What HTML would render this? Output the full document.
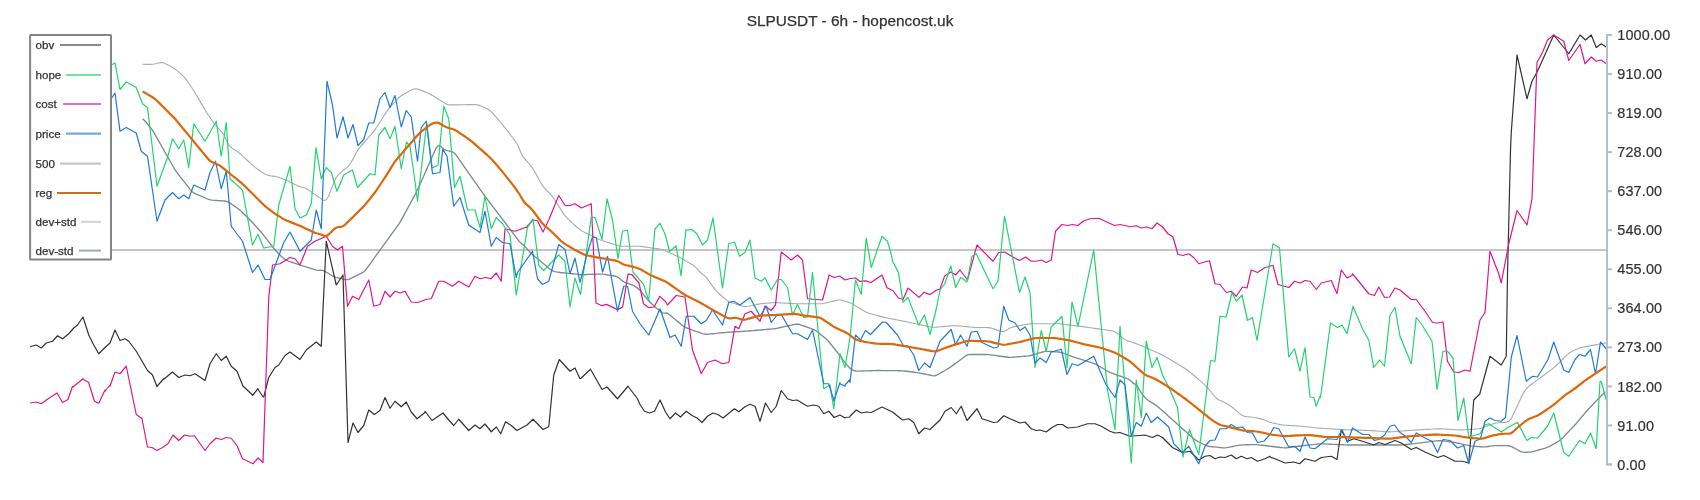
<!DOCTYPE html>
<html><head><meta charset="utf-8"><style>
html,body{margin:0;padding:0;background:#fff;}
svg{display:block;font-family:"Liberation Sans",sans-serif;will-change:transform;}
</style></head><body>
<svg width="1700" height="500" viewBox="0 0 1700 500">
<rect width="1700" height="500" fill="#fff"/>
<text x="850" y="26" font-size="15.4" fill="#333" stroke="#333" stroke-width="0.25" text-anchor="middle">SLPUSDT - 6h - hopencost.uk</text>
<line x1="30" y1="250" x2="1607" y2="250" stroke="#c6c6c6" stroke-width="2"/>
<path d="M142.50,64.27 L144.50,64.30 L146.50,64.35 L148.50,64.40 L150.50,64.41 L152.50,64.29 L154.50,63.96 L156.50,63.50 L158.50,63.01 L160.50,62.62 L162.50,62.61 L164.50,63.20 L166.50,64.17 L168.50,65.24 L170.50,66.32 L172.50,67.43 L174.50,68.67 L176.50,70.15 L178.50,71.82 L180.50,73.57 L182.50,75.38 L184.50,77.42 L186.50,79.92 L188.50,82.77 L190.50,85.75 L192.50,88.78 L194.50,91.89 L196.50,95.19 L198.50,98.63 L200.50,102.12 L202.50,105.60 L204.50,108.98 L206.50,112.18 L208.50,115.24 L210.50,118.25 L212.50,121.20 L214.50,123.96 L216.50,126.37 L218.50,128.48 L220.50,130.52 L222.50,132.77 L224.50,135.94 L226.50,140.38 L228.50,144.57 L230.50,147.09 L232.50,148.52 L234.50,149.72 L236.50,151.05 L238.50,152.56 L240.50,154.16 L242.50,155.83 L244.50,157.61 L246.50,159.52 L248.50,161.49 L250.50,163.43 L252.50,165.23 L254.50,166.85 L256.50,168.36 L258.50,169.81 L260.50,171.21 L262.50,172.58 L264.50,173.83 L266.50,174.78 L268.50,175.36 L270.50,175.75 L272.50,176.08 L274.50,176.42 L276.50,176.81 L278.50,177.33 L280.50,178.02 L282.50,178.80 L284.50,179.60 L286.50,180.43 L288.50,181.31 L290.50,182.26 L292.50,183.25 L294.50,184.25 L296.50,185.24 L298.50,186.14 L300.50,186.82 L302.50,187.27 L304.50,187.79 L306.50,188.71 L308.50,189.97 L310.50,191.35 L312.50,192.75 L314.50,194.15 L316.50,195.56 L318.50,196.97 L320.50,198.39 L322.50,199.75 L324.50,200.55 L326.50,199.58 L328.50,196.17 L330.50,191.31 L332.50,186.13 L334.50,181.22 L336.50,177.27 L338.50,174.64 L340.50,172.79 L342.50,171.14 L344.50,169.50 L346.50,167.83 L348.50,165.91 L350.50,163.32 L352.50,159.88 L354.50,156.03 L356.50,152.32 L358.50,149.18 L360.50,146.62 L362.50,144.29 L364.50,142.00 L366.50,139.71 L368.50,137.43 L370.50,135.14 L372.50,132.81 L374.50,130.31 L376.50,127.48 L378.50,124.39 L380.50,121.20 L382.50,118.00 L384.50,114.83 L386.50,111.79 L388.50,109.09 L390.50,106.73 L392.50,104.50 L394.50,102.30 L396.50,100.12 L398.50,98.05 L400.50,96.29 L402.50,94.93 L404.50,93.78 L406.50,92.67 L408.50,91.58 L410.50,90.48 L412.50,89.47 L414.50,88.81 L416.50,88.82 L418.50,89.37 L420.50,90.11 L422.50,90.88 L424.50,91.64 L426.50,92.42 L428.50,93.24 L430.50,94.22 L432.50,95.38 L434.50,96.64 L436.50,97.93 L438.50,99.21 L440.50,100.50 L442.50,101.78 L444.50,103.04 L446.50,104.11 L448.50,104.73 L450.50,104.92 L452.50,104.92 L454.50,104.88 L456.50,104.85 L458.50,104.82 L460.50,104.78 L462.50,104.75 L464.50,104.72 L466.50,104.68 L468.50,104.65 L470.50,104.62 L472.50,104.58 L474.50,104.57 L476.50,104.69 L478.50,105.11 L480.50,105.84 L482.50,106.70 L484.50,107.58 L486.50,108.48 L488.50,109.53 L490.50,111.00 L492.50,112.99 L494.50,115.26 L496.50,117.58 L498.50,119.92 L500.50,122.25 L502.50,124.60 L504.50,127.01 L506.50,129.54 L508.50,132.17 L510.50,134.83 L512.50,137.50 L514.50,140.18 L516.50,143.06 L518.50,146.84 L520.50,151.66 L522.50,155.83 L524.50,158.63 L526.50,160.90 L528.50,163.11 L530.50,165.42 L532.50,168.10 L534.50,171.37 L536.50,175.01 L538.50,178.74 L540.50,182.37 L542.50,185.57 L544.50,188.12 L546.50,190.24 L548.50,192.26 L550.50,194.34 L552.50,196.72 L554.50,199.54 L556.50,202.66 L558.50,205.85 L560.50,209.04 L562.50,212.18 L564.50,215.05 L566.50,217.44 L568.50,219.44 L570.50,221.29 L572.50,223.12 L574.50,224.96 L576.50,226.78 L578.50,228.51 L580.50,230.01 L582.50,231.21 L584.50,232.25 L586.50,233.25 L588.50,234.25 L590.50,235.25 L592.50,236.25 L594.50,237.25 L596.50,238.24 L598.50,239.20 L600.50,240.05 L602.50,240.76 L604.50,241.40 L606.50,242.03 L608.50,242.66 L610.50,243.28 L612.50,243.91 L614.50,244.53 L616.50,245.15 L618.50,245.70 L620.50,246.07 L622.50,246.22 L624.50,246.25 L626.50,246.25 L628.50,246.25 L630.50,246.25 L632.50,246.25 L634.50,246.25 L636.50,246.25 L638.50,246.29 L640.50,246.41 L642.50,246.63 L644.50,246.90 L646.50,247.19 L648.50,247.48 L650.50,247.77 L652.50,248.06 L654.50,248.34 L656.50,248.63 L658.50,248.93 L660.50,249.26 L662.50,249.74 L664.50,250.46 L666.50,251.33 L668.50,252.24 L670.50,253.16 L672.50,254.07 L674.50,254.99 L676.50,255.90 L678.50,256.85 L680.50,257.86 L682.50,258.97 L684.50,260.13 L686.50,261.29 L688.50,262.46 L690.50,263.63 L692.50,264.85 L694.50,266.30 L696.50,268.16 L698.50,270.34 L700.50,272.50 L702.50,274.25 L704.50,275.69 L706.50,277.63 L708.50,280.30 L710.50,283.25 L712.50,286.19 L714.50,288.90 L716.50,291.19 L718.50,293.13 L720.50,294.95 L722.50,296.75 L724.50,298.52 L726.50,300.13 L728.50,301.36 L730.50,302.21 L732.50,302.89 L734.50,303.55 L736.50,304.21 L738.50,304.86 L740.50,305.52 L742.50,306.12 L744.50,306.52 L746.50,306.53 L748.50,306.22 L750.50,305.81 L752.50,305.38 L754.50,304.94 L756.50,304.51 L758.50,304.11 L760.50,303.79 L762.50,303.56 L764.50,303.38 L766.50,303.21 L768.50,303.04 L770.50,302.88 L772.50,302.72 L774.50,302.63 L776.50,302.63 L778.50,302.72 L780.50,302.84 L782.50,302.97 L784.50,303.09 L786.50,303.22 L788.50,303.34 L790.50,303.47 L792.50,303.59 L794.50,303.68 L796.50,303.73 L798.50,303.75 L800.50,303.75 L802.50,303.75 L804.50,303.75 L806.50,303.75 L808.50,303.75 L810.50,303.75 L812.50,303.75 L814.50,303.75 L816.50,303.75 L818.50,303.75 L820.50,303.71 L822.50,303.56 L824.50,303.23 L826.50,302.78 L828.50,302.29 L830.50,301.81 L832.50,301.32 L834.50,300.84 L836.50,300.37 L838.50,300.02 L840.50,300.02 L842.50,300.43 L844.50,301.02 L846.50,301.61 L848.50,302.21 L850.50,303.00 L852.50,304.04 L854.50,305.20 L856.50,306.40 L858.50,307.60 L860.50,308.80 L862.50,310.00 L864.50,311.18 L866.50,312.27 L868.50,313.13 L870.50,313.75 L872.50,314.28 L874.50,314.80 L876.50,315.31 L878.50,315.83 L880.50,316.34 L882.50,316.85 L884.50,317.34 L886.50,317.78 L888.50,318.20 L890.50,318.60 L892.50,319.00 L894.50,319.40 L896.50,319.80 L898.50,320.20 L900.50,320.60 L902.50,321.00 L904.50,321.40 L906.50,321.80 L908.50,322.21 L910.50,322.62 L912.50,323.06 L914.50,323.50 L916.50,323.94 L918.50,324.39 L920.50,324.83 L922.50,325.28 L924.50,325.72 L926.50,326.17 L928.50,326.61 L930.50,327.01 L932.50,327.26 L934.50,327.27 L936.50,327.14 L938.50,326.97 L940.50,326.79 L942.50,326.61 L944.50,326.43 L946.50,326.26 L948.50,326.08 L950.50,325.90 L952.50,325.74 L954.50,325.65 L956.50,325.70 L958.50,325.86 L960.50,326.05 L962.50,326.25 L964.50,326.45 L966.50,326.65 L968.50,326.85 L970.50,327.05 L972.50,327.24 L974.50,327.39 L976.50,327.47 L978.50,327.50 L980.50,327.50 L982.50,327.50 L984.50,327.50 L986.50,327.51 L988.50,327.60 L990.50,327.89 L992.50,328.45 L994.50,329.14 L996.50,329.86 L998.50,330.59 L1000.50,331.27 L1002.50,331.67 L1004.50,331.34 L1006.50,330.23 L1008.50,328.86 L1010.50,327.76 L1012.50,327.09 L1014.50,326.66 L1016.50,326.28 L1018.50,325.91 L1020.50,325.53 L1022.50,325.16 L1024.50,324.78 L1026.50,324.41 L1028.50,324.08 L1030.50,323.86 L1032.50,323.77 L1034.50,323.75 L1036.50,323.75 L1038.50,323.75 L1040.50,323.75 L1042.50,323.75 L1044.50,323.75 L1046.50,323.75 L1048.50,323.75 L1050.50,323.75 L1052.50,323.75 L1054.50,323.75 L1056.50,323.75 L1058.50,323.78 L1060.50,323.88 L1062.50,324.08 L1064.50,324.31 L1066.50,324.56 L1068.50,324.81 L1070.50,325.06 L1072.50,325.31 L1074.50,325.56 L1076.50,325.81 L1078.50,326.07 L1080.50,326.33 L1082.50,326.61 L1084.50,326.89 L1086.50,327.18 L1088.50,327.46 L1090.50,327.75 L1092.50,328.04 L1094.50,328.32 L1096.50,328.61 L1098.50,328.89 L1100.50,329.18 L1102.50,329.46 L1104.50,329.75 L1106.50,330.04 L1108.50,330.32 L1110.50,330.61 L1112.50,330.97 L1114.50,331.60 L1116.50,332.76 L1118.50,334.34 L1120.50,336.06 L1122.50,337.76 L1124.50,339.25 L1126.50,340.36 L1128.50,341.15 L1130.50,341.83 L1132.50,342.50 L1134.50,343.17 L1136.50,343.84 L1138.50,344.53 L1140.50,345.29 L1142.50,346.12 L1144.50,347.00 L1146.50,347.89 L1148.50,348.78 L1150.50,349.67 L1152.50,350.56 L1154.50,351.44 L1156.50,352.33 L1158.50,353.22 L1160.50,354.14 L1162.50,355.12 L1164.50,356.22 L1166.50,357.40 L1168.50,358.60 L1170.50,359.80 L1172.50,361.00 L1174.50,362.20 L1176.50,363.40 L1178.50,364.60 L1180.50,365.80 L1182.50,367.00 L1184.50,368.21 L1186.50,369.50 L1188.50,370.95 L1190.50,372.58 L1192.50,374.29 L1194.50,376.00 L1196.50,377.71 L1198.50,379.43 L1200.50,381.14 L1202.50,382.87 L1204.50,384.67 L1206.50,386.63 L1208.50,388.85 L1210.50,391.26 L1212.50,393.75 L1214.50,396.19 L1216.50,398.30 L1218.50,399.68 L1220.50,400.53 L1222.50,401.44 L1224.50,402.50 L1226.50,403.61 L1228.50,404.75 L1230.50,405.99 L1232.50,407.47 L1234.50,409.15 L1236.50,410.92 L1238.50,412.68 L1240.50,414.35 L1242.50,415.64 L1244.50,416.33 L1246.50,416.64 L1248.50,416.85 L1250.50,417.05 L1252.50,417.27 L1254.50,417.54 L1256.50,417.91 L1258.50,418.38 L1260.50,418.88 L1262.50,419.40 L1264.50,420.02 L1266.50,420.81 L1268.50,421.68 L1270.50,422.43 L1272.50,422.97 L1274.50,423.40 L1276.50,423.80 L1278.50,424.20 L1280.50,424.58 L1282.50,424.89 L1284.50,425.10 L1286.50,425.25 L1288.50,425.38 L1290.50,425.50 L1292.50,425.63 L1294.50,425.75 L1296.50,425.88 L1298.50,426.00 L1300.50,426.13 L1302.50,426.30 L1304.50,426.51 L1306.50,426.76 L1308.50,427.01 L1310.50,427.27 L1312.50,427.52 L1314.50,427.76 L1316.50,427.97 L1318.50,428.13 L1320.50,428.27 L1322.50,428.39 L1324.50,428.52 L1326.50,428.65 L1328.50,428.77 L1330.50,428.90 L1332.50,429.03 L1334.50,429.15 L1336.50,429.28 L1338.50,429.40 L1340.50,429.50 L1342.50,429.58 L1344.50,429.65 L1346.50,429.72 L1348.50,429.78 L1350.50,429.85 L1352.50,429.92 L1354.50,429.98 L1356.50,430.05 L1358.50,430.12 L1360.50,430.18 L1362.50,430.25 L1364.50,430.32 L1366.50,430.38 L1368.50,430.46 L1370.50,430.56 L1372.50,430.69 L1374.50,430.84 L1376.50,430.99 L1378.50,431.14 L1380.50,431.29 L1382.50,431.44 L1384.50,431.59 L1386.50,431.73 L1388.50,431.85 L1390.50,431.87 L1392.50,431.78 L1394.50,431.64 L1396.50,431.48 L1398.50,431.32 L1400.50,431.16 L1402.50,431.00 L1404.50,430.84 L1406.50,430.68 L1408.50,430.52 L1410.50,430.36 L1412.50,430.20 L1414.50,430.06 L1416.50,429.93 L1418.50,429.83 L1420.50,429.73 L1422.50,429.62 L1424.50,429.53 L1426.50,429.43 L1428.50,429.33 L1430.50,429.23 L1432.50,429.13 L1434.50,429.03 L1436.50,428.93 L1438.50,428.85 L1440.50,428.85 L1442.50,428.92 L1444.50,429.03 L1446.50,429.16 L1448.50,429.28 L1450.50,429.41 L1452.50,429.53 L1454.50,429.66 L1456.50,429.78 L1458.50,429.87 L1460.50,429.90 L1462.50,429.83 L1464.50,429.72 L1466.50,429.59 L1468.50,429.47 L1470.50,429.34 L1472.50,429.22 L1474.50,429.09 L1476.50,428.96 L1478.50,428.76 L1480.50,428.37 L1482.50,427.76 L1484.50,427.02 L1486.50,426.26 L1488.50,425.49 L1490.50,424.73 L1492.50,423.99 L1494.50,423.37 L1496.50,422.98 L1498.50,422.78 L1500.50,422.63 L1502.50,422.50 L1504.50,422.36 L1506.50,422.16 L1508.50,421.53 L1510.50,419.67 L1512.50,416.28 L1514.50,412.08 L1516.50,407.71 L1518.50,403.35 L1520.50,399.12 L1522.50,395.06 L1524.50,391.38 L1526.50,388.54 L1528.50,386.63 L1530.50,385.07 L1532.50,383.58 L1534.50,382.10 L1536.50,380.63 L1538.50,379.17 L1540.50,377.70 L1542.50,376.23 L1544.50,374.77 L1546.50,373.30 L1548.50,371.83 L1550.50,370.36 L1552.50,368.83 L1554.50,367.15 L1556.50,365.27 L1558.50,363.30 L1560.50,361.30 L1562.50,359.30 L1564.50,357.30 L1566.50,355.34 L1568.50,353.57 L1570.50,352.17 L1572.50,351.10 L1574.50,350.16 L1576.50,349.24 L1578.50,348.41 L1580.50,347.75 L1582.50,347.28 L1584.50,346.90 L1586.50,346.53 L1588.50,346.16 L1590.50,345.80 L1592.50,345.43 L1594.50,345.06 L1596.50,344.68 L1598.50,344.30 L1600.50,343.90 L1602.50,343.51 L1604.50,343.16 L1606.50,342.92 L1606.50,342.92" stroke="#a7afb4" stroke-width="1.15" fill="none" stroke-linejoin="round"/>
<path d="M142.50,118.69 L144.50,120.46 L146.50,122.80 L148.50,125.20 L150.50,127.63 L152.50,130.33 L154.50,133.59 L156.50,137.11 L158.50,140.67 L160.50,144.22 L162.50,147.78 L164.50,151.33 L166.50,154.89 L168.50,158.44 L170.50,162.00 L172.50,165.54 L174.50,168.92 L176.50,171.87 L178.50,174.50 L180.50,177.07 L182.50,179.64 L184.50,182.21 L186.50,184.79 L188.50,187.36 L190.50,189.88 L192.50,192.01 L194.50,193.31 L196.50,194.21 L198.50,195.07 L200.50,195.93 L202.50,196.79 L204.50,197.64 L206.50,198.50 L208.50,199.31 L210.50,199.90 L212.50,200.17 L214.50,200.32 L216.50,200.46 L218.50,200.61 L220.50,200.75 L222.50,200.89 L224.50,201.04 L226.50,201.31 L228.50,202.08 L230.50,203.35 L232.50,204.75 L234.50,206.15 L236.50,207.55 L238.50,208.99 L240.50,210.62 L242.50,212.51 L244.50,214.50 L246.50,216.50 L248.50,218.50 L250.50,220.51 L252.50,222.57 L254.50,224.76 L256.50,227.00 L258.50,229.25 L260.50,231.51 L262.50,233.85 L264.50,236.36 L266.50,238.95 L268.50,241.55 L270.50,244.15 L272.50,246.74 L274.50,249.23 L276.50,251.46 L278.50,253.50 L280.50,255.50 L282.50,257.48 L284.50,259.24 L286.50,260.41 L288.50,261.16 L290.50,261.83 L292.50,262.50 L294.50,263.17 L296.50,263.83 L298.50,264.50 L300.50,265.15 L302.50,265.79 L304.50,266.41 L306.50,267.04 L308.50,267.67 L310.50,268.30 L312.50,268.93 L314.50,269.55 L316.50,270.10 L318.50,270.30 L320.50,270.23 L322.50,270.42 L324.50,271.14 L326.50,272.24 L328.50,273.49 L330.50,274.76 L332.50,275.99 L334.50,276.95 L336.50,277.54 L338.50,278.00 L340.50,278.44 L342.50,278.89 L344.50,279.33 L346.50,279.67 L348.50,279.50 L350.50,278.69 L352.50,277.67 L354.50,276.64 L356.50,275.60 L358.50,274.57 L360.50,273.56 L362.50,272.62 L364.50,271.28 L366.50,268.94 L368.50,266.17 L370.50,263.36 L372.50,260.55 L374.50,257.73 L376.50,254.92 L378.50,252.11 L380.50,249.32 L382.50,246.56 L384.50,243.81 L386.50,241.06 L388.50,238.31 L390.50,235.56 L392.50,232.81 L394.50,230.06 L396.50,227.31 L398.50,224.50 L400.50,221.38 L402.50,217.84 L404.50,214.14 L406.50,210.43 L408.50,206.71 L410.50,203.00 L412.50,199.29 L414.50,195.57 L416.50,191.77 L418.50,187.65 L420.50,183.21 L422.50,178.68 L424.50,174.16 L426.50,169.63 L428.50,165.10 L430.50,160.58 L432.50,156.05 L434.50,151.53 L436.50,147.42 L438.50,145.39 L440.50,146.28 L442.50,148.16 L444.50,149.68 L446.50,150.44 L448.50,150.88 L450.50,151.29 L452.50,151.85 L454.50,153.20 L456.50,155.63 L458.50,158.47 L460.50,161.34 L462.50,164.22 L464.50,167.09 L466.50,169.97 L468.50,172.84 L470.50,175.70 L472.50,178.54 L474.50,181.38 L476.50,184.21 L478.50,187.04 L480.50,189.88 L482.50,192.71 L484.50,195.50 L486.50,198.21 L488.50,200.84 L490.50,203.47 L492.50,206.09 L494.50,208.72 L496.50,211.34 L498.50,213.97 L500.50,216.59 L502.50,219.22 L504.50,221.85 L506.50,224.50 L508.50,227.17 L510.50,229.83 L512.50,232.50 L514.50,235.17 L516.50,237.83 L518.50,240.43 L520.50,242.65 L522.50,244.37 L524.50,246.07 L526.50,248.19 L528.50,250.57 L530.50,252.76 L532.50,254.57 L534.50,256.25 L536.50,257.92 L538.50,259.58 L540.50,261.25 L542.50,262.92 L544.50,264.58 L546.50,266.25 L548.50,267.92 L550.50,269.55 L552.50,270.87 L554.50,271.55 L556.50,271.92 L558.50,272.24 L560.50,272.52 L562.50,272.75 L564.50,272.95 L566.50,273.15 L568.50,273.35 L570.50,273.55 L572.50,273.75 L574.50,273.95 L576.50,274.15 L578.50,274.35 L580.50,274.55 L582.50,274.72 L584.50,274.72 L586.50,274.52 L588.50,274.40 L590.50,274.34 L592.50,274.28 L594.50,274.22 L596.50,274.16 L598.50,274.10 L600.50,274.07 L602.50,274.15 L604.50,274.41 L606.50,274.73 L608.50,275.05 L610.50,275.37 L612.50,275.69 L614.50,276.02 L616.50,276.49 L618.50,277.54 L620.50,279.18 L622.50,280.89 L624.50,282.22 L626.50,283.03 L628.50,283.65 L630.50,284.26 L632.50,285.00 L634.50,286.07 L636.50,287.39 L638.50,288.87 L640.50,290.85 L642.50,293.36 L644.50,295.97 L646.50,298.37 L648.50,300.49 L650.50,302.50 L652.50,304.49 L654.50,306.42 L656.50,308.17 L658.50,309.80 L660.50,311.40 L662.50,312.83 L664.50,313.14 L666.50,312.85 L668.50,313.92 L670.50,315.54 L672.50,317.19 L674.50,318.84 L676.50,320.49 L678.50,322.14 L680.50,323.79 L682.50,325.42 L684.50,326.90 L686.50,327.96 L688.50,328.72 L690.50,329.43 L692.50,330.12 L694.50,330.83 L696.50,331.52 L698.50,332.23 L700.50,332.92 L702.50,333.61 L704.50,334.15 L706.50,334.29 L708.50,334.15 L710.50,333.95 L712.50,333.75 L714.50,333.55 L716.50,333.35 L718.50,333.15 L720.50,332.95 L722.50,332.75 L724.50,332.56 L726.50,332.41 L728.50,332.28 L730.50,332.16 L732.50,332.03 L734.50,331.91 L736.50,331.78 L738.50,331.66 L740.50,331.53 L742.50,331.41 L744.50,331.27 L746.50,331.12 L748.50,330.96 L750.50,330.79 L752.50,330.62 L754.50,330.46 L756.50,330.29 L758.50,330.12 L760.50,329.96 L762.50,329.79 L764.50,329.62 L766.50,329.46 L768.50,329.29 L770.50,329.12 L772.50,328.95 L774.50,328.74 L776.50,328.40 L778.50,327.97 L780.50,327.53 L782.50,327.08 L784.50,326.64 L786.50,326.19 L788.50,325.75 L790.50,325.31 L792.50,324.86 L794.50,324.42 L796.50,324.09 L798.50,324.23 L800.50,324.83 L802.50,325.54 L804.50,326.25 L806.50,326.96 L808.50,327.68 L810.50,328.39 L812.50,329.12 L814.50,329.99 L816.50,331.26 L818.50,332.80 L820.50,334.40 L822.50,336.00 L824.50,337.60 L826.50,339.29 L828.50,341.34 L830.50,343.75 L832.50,346.25 L834.50,348.75 L836.50,351.27 L838.50,353.85 L840.50,356.50 L842.50,359.16 L844.50,361.80 L846.50,364.36 L848.50,366.78 L850.50,368.71 L852.50,369.96 L854.50,370.79 L856.50,371.13 L858.50,371.13 L860.50,371.07 L862.50,371.00 L864.50,370.93 L866.50,370.87 L868.50,370.80 L870.50,370.73 L872.50,370.67 L874.50,370.60 L876.50,370.54 L878.50,370.52 L880.50,370.53 L882.50,370.55 L884.50,370.57 L886.50,370.59 L888.50,370.61 L890.50,370.63 L892.50,370.65 L894.50,370.67 L896.50,370.69 L898.50,370.71 L900.50,370.74 L902.50,370.82 L904.50,371.01 L906.50,371.26 L908.50,371.52 L910.50,371.78 L912.50,372.04 L914.50,372.29 L916.50,372.55 L918.50,372.82 L920.50,373.14 L922.50,373.54 L924.50,373.97 L926.50,374.41 L928.50,374.84 L930.50,375.28 L932.50,375.68 L934.50,375.83 L936.50,375.27 L938.50,374.21 L940.50,373.04 L942.50,371.88 L944.50,370.71 L946.50,369.54 L948.50,368.35 L950.50,367.07 L952.50,365.64 L954.50,364.16 L956.50,362.67 L958.50,361.19 L960.50,359.70 L962.50,358.21 L964.50,356.73 L966.50,355.39 L968.50,354.65 L970.50,354.51 L972.50,354.50 L974.50,354.50 L976.50,354.50 L978.50,354.50 L980.50,354.50 L982.50,354.50 L984.50,354.50 L986.50,354.53 L988.50,354.66 L990.50,354.90 L992.50,355.17 L994.50,355.43 L996.50,355.70 L998.50,355.97 L1000.50,356.23 L1002.50,356.50 L1004.50,356.77 L1006.50,357.03 L1008.50,357.27 L1010.50,357.37 L1012.50,357.27 L1014.50,357.11 L1016.50,356.93 L1018.50,356.76 L1020.50,356.58 L1022.50,356.41 L1024.50,356.23 L1026.50,356.06 L1028.50,355.85 L1030.50,355.52 L1032.50,354.99 L1034.50,354.40 L1036.50,353.80 L1038.50,353.20 L1040.50,352.60 L1042.50,352.01 L1044.50,351.54 L1046.50,351.37 L1048.50,351.43 L1050.50,351.52 L1052.50,351.63 L1054.50,351.72 L1056.50,351.83 L1058.50,351.97 L1060.50,352.31 L1062.50,352.93 L1064.50,353.65 L1066.50,354.38 L1068.50,355.12 L1070.50,355.85 L1072.50,356.58 L1074.50,357.30 L1076.50,357.96 L1078.50,358.59 L1080.50,359.22 L1082.50,359.84 L1084.50,360.47 L1086.50,361.09 L1088.50,361.72 L1090.50,362.34 L1092.50,362.98 L1094.50,363.70 L1096.50,364.66 L1098.50,365.79 L1100.50,366.96 L1102.50,368.13 L1104.50,369.29 L1106.50,370.46 L1108.50,371.60 L1110.50,372.59 L1112.50,373.39 L1114.50,374.11 L1116.50,374.82 L1118.50,375.54 L1120.50,376.25 L1122.50,376.96 L1124.50,377.65 L1126.50,378.24 L1128.50,379.17 L1130.50,380.81 L1132.50,382.58 L1134.50,383.90 L1136.50,385.48 L1138.50,388.36 L1140.50,391.63 L1142.50,394.62 L1144.50,396.96 L1146.50,398.92 L1148.50,400.55 L1150.50,401.87 L1152.50,403.13 L1154.50,404.38 L1156.50,405.68 L1158.50,407.21 L1160.50,408.95 L1162.50,410.75 L1164.50,412.55 L1166.50,414.35 L1168.50,416.15 L1170.50,417.95 L1172.50,419.75 L1174.50,421.55 L1176.50,423.35 L1178.50,425.15 L1180.50,426.95 L1182.50,428.75 L1184.50,430.55 L1186.50,432.35 L1188.50,434.15 L1190.50,435.95 L1192.50,437.74 L1194.50,439.39 L1196.50,440.70 L1198.50,441.75 L1200.50,442.75 L1202.50,443.75 L1204.50,444.75 L1206.50,445.67 L1208.50,446.27 L1210.50,446.55 L1212.50,446.75 L1214.50,446.95 L1216.50,447.15 L1218.50,447.35 L1220.50,447.55 L1222.50,447.74 L1224.50,447.83 L1226.50,447.66 L1228.50,447.30 L1230.50,446.90 L1232.50,446.50 L1234.50,446.10 L1236.50,445.70 L1238.50,445.32 L1240.50,445.05 L1242.50,444.92 L1244.50,444.85 L1246.50,444.78 L1248.50,444.72 L1250.50,444.65 L1252.50,444.59 L1254.50,444.57 L1256.50,444.67 L1258.50,444.85 L1260.50,445.05 L1262.50,445.25 L1264.50,445.47 L1266.50,445.73 L1268.50,446.02 L1270.50,446.30 L1272.50,446.54 L1274.50,446.77 L1276.50,447.01 L1278.50,447.24 L1280.50,447.47 L1282.50,447.70 L1284.50,447.85 L1286.50,447.78 L1288.50,447.55 L1290.50,447.29 L1292.50,447.04 L1294.50,446.78 L1296.50,446.52 L1298.50,446.26 L1300.50,446.01 L1302.50,445.76 L1304.50,445.52 L1306.50,445.29 L1308.50,445.06 L1310.50,444.84 L1312.50,444.61 L1314.50,444.38 L1316.50,444.15 L1318.50,443.94 L1320.50,443.83 L1322.50,443.87 L1324.50,443.95 L1326.50,444.05 L1328.50,444.14 L1330.50,444.23 L1332.50,444.32 L1334.50,444.41 L1336.50,444.50 L1338.50,444.59 L1340.50,444.68 L1342.50,444.77 L1344.50,444.86 L1346.50,444.95 L1348.50,444.99 L1350.50,445.00 L1352.50,445.00 L1354.50,445.00 L1356.50,445.00 L1358.50,445.00 L1360.50,445.00 L1362.50,445.00 L1364.50,445.00 L1366.50,445.00 L1368.50,445.00 L1370.50,445.00 L1372.50,445.00 L1374.50,445.00 L1376.50,445.00 L1378.50,445.00 L1380.50,445.00 L1382.50,445.00 L1384.50,445.00 L1386.50,445.00 L1388.50,445.00 L1390.50,445.00 L1392.50,445.00 L1394.50,445.00 L1396.50,445.00 L1398.50,445.00 L1400.50,444.99 L1402.50,444.93 L1404.50,444.75 L1406.50,444.52 L1408.50,444.28 L1410.50,444.04 L1412.50,443.80 L1414.50,443.56 L1416.50,443.32 L1418.50,443.08 L1420.50,442.84 L1422.50,442.60 L1424.50,442.36 L1426.50,442.12 L1428.50,441.88 L1430.50,441.64 L1432.50,441.40 L1434.50,441.16 L1436.50,440.92 L1438.50,440.71 L1440.50,440.66 L1442.50,440.84 L1444.50,441.10 L1446.50,441.37 L1448.50,441.63 L1450.50,441.90 L1452.50,442.17 L1454.50,442.46 L1456.50,442.83 L1458.50,443.25 L1460.50,443.68 L1462.50,444.11 L1464.50,444.54 L1466.50,444.96 L1468.50,445.39 L1470.50,445.81 L1472.50,446.16 L1474.50,446.36 L1476.50,446.49 L1478.50,446.61 L1480.50,446.73 L1482.50,446.84 L1484.50,446.89 L1486.50,446.75 L1488.50,446.47 L1490.50,446.18 L1492.50,445.88 L1494.50,445.64 L1496.50,445.55 L1498.50,445.56 L1500.50,445.59 L1502.50,445.62 L1504.50,445.66 L1506.50,445.69 L1508.50,445.79 L1510.50,446.22 L1512.50,447.12 L1514.50,448.18 L1516.50,449.26 L1518.50,450.34 L1520.50,451.39 L1522.50,452.16 L1524.50,452.36 L1526.50,452.27 L1528.50,452.15 L1530.50,451.98 L1532.50,451.62 L1534.50,451.10 L1536.50,450.55 L1538.50,449.99 L1540.50,449.44 L1542.50,448.88 L1544.50,448.33 L1546.50,447.72 L1548.50,446.88 L1550.50,445.82 L1552.50,444.70 L1554.50,443.58 L1556.50,442.46 L1558.50,441.28 L1560.50,439.80 L1562.50,437.90 L1564.50,435.85 L1566.50,433.78 L1568.50,431.72 L1570.50,429.65 L1572.50,427.58 L1574.50,425.45 L1576.50,423.18 L1578.50,420.80 L1580.50,418.40 L1582.50,416.00 L1584.50,413.60 L1586.50,411.23 L1588.50,408.99 L1590.50,406.88 L1592.50,404.80 L1594.50,402.72 L1596.50,400.64 L1598.50,398.56 L1600.50,396.48 L1602.50,394.41 L1604.50,392.53 L1605.50,391.87" stroke="#7f8b93" stroke-width="1.35" fill="none" stroke-linejoin="round"/>
<path d="M30.00,346.75 L36.25,345.00 L41.25,348.00 L46.25,343.00 L52.50,341.25 L57.50,335.75 L62.50,338.75 L68.75,333.75 L73.75,328.00 L77.50,325.00 L83.00,317.00 L88.75,335.00 L93.75,345.00 L98.75,353.75 L105.00,347.50 L110.00,343.00 L115.00,330.00 L120.00,340.50 L125.00,338.75 L128.75,341.25 L136.25,351.25 L147.50,370.50 L152.50,375.00 L157.00,386.75 L157.00,386.25 L163.75,378.75 L163.75,379.25 L172.50,372.00 L178.75,377.50 L178.75,377.50 L185.00,375.00 L190.00,375.75 L190.00,375.75 L195.00,373.75 L205.00,380.50 L205.00,380.50 L210.00,363.75 L216.25,353.75 L221.25,360.50 L226.25,356.25 L231.25,366.25 L237.00,371.25 L242.50,385.00 L242.50,385.50 L252.50,395.00 L252.50,395.50 L258.00,388.75 L258.00,389.25 L263.00,396.75 L263.75,397.00 L268.75,377.50 L268.75,377.50 L275.00,367.50 L278.75,365.00 L285.00,355.50 L290.00,352.00 L300.00,359.50 L306.25,350.00 L316.25,342.00 L321.25,346.25 L326.25,241.25 L336.25,285.00 L343.00,275.00 L348.00,442.50 L353.00,423.00 L358.00,432.50 L363.75,425.50 L368.75,410.00 L374.25,414.50 L380.00,410.50 L385.00,397.50 L390.00,408.25 L395.00,401.25 L401.25,406.75 L406.25,402.00 L411.25,412.00 L417.00,418.75 L425.00,412.50 L425.00,411.25 L432.00,420.50 L443.00,413.00 L448.75,420.00 L453.75,425.50 L458.75,419.25 L468.75,430.50 L475.00,425.00 L480.00,428.75 L485.00,424.00 L491.25,431.75 L496.25,427.00 L500.75,433.75 L505.50,421.75 L511.25,425.50 L517.00,430.50 L527.00,425.00 L533.00,419.25 L543.00,429.50 L548.75,426.75 L553.75,375.00 L559.25,359.50 L570.00,371.25 L575.00,368.00 L580.00,378.75 L581.25,378.00 L590.50,369.25 L602.00,389.50 L607.00,387.00 L617.50,398.75 L628.00,386.25 L637.50,398.75 L640.00,404.50 L644.50,411.25 L649.50,413.00 L654.50,411.25 L660.00,400.00 L665.50,412.00 L670.00,418.75 L675.50,413.00 L680.50,417.00 L686.25,411.25 L692.00,415.50 L697.00,418.00 L702.00,422.50 L707.50,416.25 L713.00,413.00 L718.00,414.50 L723.00,418.00 L734.50,408.75 L738.75,411.75 L745.00,406.75 L750.00,404.25 L755.00,406.25 L760.00,421.25 L765.50,403.00 L771.25,412.50 L776.25,406.25 L781.25,390.50 L787.50,398.75 L792.50,400.50 L797.00,400.00 L807.50,406.25 L813.75,405.00 L818.75,406.25 L823.75,413.75 L828.75,411.25 L834.25,417.50 L840.00,415.00 L845.00,418.00 L845.00,417.50 L850.00,417.00 L850.00,416.25 L856.25,410.00 L861.25,413.00 L866.25,412.00 L871.25,412.50 L882.00,407.00 L892.50,412.00 L902.50,420.00 L908.75,418.75 L913.75,422.50 L918.75,433.75 L924.50,428.00 L930.00,429.50 L940.00,420.00 L945.00,411.25 L951.25,407.50 L956.25,413.75 L961.25,406.25 L967.00,420.50 L977.00,408.75 L982.00,418.75 L993.75,422.50 L997.50,422.00 L1003.75,415.75 L1010.00,418.75 L1020.00,423.00 L1025.00,422.00 L1031.25,428.75 L1036.25,430.50 L1040.00,430.00 L1046.25,432.00 L1051.25,428.00 L1057.50,424.50 L1062.50,424.50 L1067.50,428.00 L1077.50,427.00 L1087.50,423.75 L1095.00,423.75 L1101.25,426.25 L1110.00,431.25 L1115.00,433.00 L1120.00,432.50 L1130.00,436.25 L1145.00,435.00 L1152.50,437.50 L1157.50,435.00 L1162.50,437.50 L1172.50,447.50 L1182.50,452.50 L1190.00,451.25 L1198.75,460.00 L1205.00,456.25 L1210.00,455.50 L1215.00,458.75 L1220.00,457.00 L1225.00,457.50 L1231.25,455.00 L1236.25,458.75 L1241.25,456.25 L1247.00,458.75 L1251.25,457.50 L1257.50,461.25 L1265.00,458.75 L1265.00,458.75 L1270.00,456.25 L1270.00,457.00 L1275.00,458.75 L1285.00,463.00 L1293.75,462.00 L1299.50,463.75 L1305.00,458.75 L1315.00,461.25 L1321.25,457.50 L1331.25,456.25 L1337.00,459.50 L1341.25,430.00 L1347.50,441.25 L1353.75,438.75 L1362.50,441.25 L1373.75,445.00 L1378.75,442.50 L1385.00,444.50 L1395.00,440.50 L1401.25,443.00 L1411.25,449.50 L1416.25,447.50 L1425.00,452.00 L1437.50,457.50 L1443.75,455.50 L1455.00,461.25 L1462.50,461.25 L1468.75,463.00 L1473.75,400.00 L1480.00,393.75 L1480.00,393.00 L1490.00,356.25 L1501.25,365.00 L1506.25,356.25 L1507.50,275.00 L1510.50,150.00 L1511.25,132.50 L1517.00,55.00 L1527.00,98.75 L1532.00,81.25 L1537.50,71.25 L1553.75,35.00 L1568.75,53.75 L1580.00,35.00 L1585.50,40.00 L1591.25,35.00 L1596.25,47.50 L1601.25,43.75 L1606.25,47.00" stroke="#333333" stroke-width="1.2" fill="none" stroke-linejoin="round"/>
<path d="M30.00,403.00 L36.25,402.00 L41.25,403.75 L46.25,400.00 L57.00,393.00 L62.50,402.50 L68.00,399.50 L72.50,386.25 L73.00,387.00 L83.00,378.75 L83.00,379.25 L88.75,382.50 L88.75,383.00 L94.50,401.25 L98.75,403.25 L105.00,390.00 L105.00,391.25 L110.00,385.00 L110.00,386.25 L115.00,372.00 L120.00,373.75 L126.25,366.25 L136.25,414.50 L142.00,418.75 L147.50,447.00 L152.00,447.50 L157.00,450.50 L162.50,447.50 L168.00,443.75 L173.00,435.00 L178.75,440.50 L184.50,435.00 L190.00,436.25 L194.50,435.75 L205.00,450.50 L210.00,443.75 L216.25,438.00 L221.25,439.50 L226.25,437.50 L231.25,438.25 L237.00,445.75 L242.50,458.75 L253.00,463.75 L258.00,458.00 L263.00,462.50 L268.75,297.50 L272.50,265.00 L280.00,263.75 L290.00,257.50 L295.00,258.75 L300.00,265.00 L307.50,246.25 L315.00,241.25 L326.25,236.25 L332.50,246.25 L337.50,250.00 L342.50,246.25 L347.50,306.25 L352.50,296.25 L358.75,299.50 L368.75,280.00 L373.75,306.25 L380.00,304.50 L385.00,291.25 L390.00,297.00 L395.00,291.25 L400.00,293.00 L405.00,291.25 L411.25,302.00 L417.50,302.50 L425.00,300.00 L425.00,299.50 L431.25,298.75 L438.75,281.25 L443.75,281.25 L452.50,286.25 L458.75,281.25 L468.75,287.00 L475.00,276.25 L480.00,278.75 L486.00,277.50 L491.00,278.75 L496.25,273.00 L501.25,281.25 L505.00,228.75 L515.00,231.25 L520.00,229.50 L525.00,227.50 L526.25,227.50 L533.00,220.00 L537.50,220.75 L543.00,232.00 L548.75,220.00 L558.75,195.50 L565.00,205.50 L570.00,205.50 L575.00,203.75 L581.25,208.00 L591.25,203.75 L596.00,303.00 L602.00,305.70 L606.50,304.40 L617.50,309.60 L622.70,307.00 L628.00,274.20 L631.80,274.50 L639.00,283.00 L643.50,303.80 L648.70,307.70 L654.00,307.00 L659.80,296.40 L665.00,301.00 L667.50,305.00 L676.25,295.50 L685.00,297.00 L692.50,350.00 L701.25,373.75 L707.50,362.50 L715.00,360.00 L722.50,363.75 L728.75,362.50 L735.00,326.25 L738.75,328.75 L745.00,313.75 L751.25,311.25 L760.00,321.25 L765.00,306.00 L771.00,310.50 L775.50,305.00 L781.25,252.00 L791.25,260.00 L797.50,255.00 L802.50,260.00 L807.50,298.75 L822.50,300.00 L829.20,275.00 L834.00,277.50 L839.70,276.00 L845.00,280.00 L850.20,278.50 L855.50,278.00 L860.00,281.40 L865.50,280.90 L871.00,282.50 L882.00,275.00 L887.00,287.80 L893.00,290.75 L898.50,298.00 L903.00,299.50 L908.00,288.00 L919.00,297.40 L924.00,292.20 L930.00,294.60 L936.00,290.40 L940.00,289.00 L944.70,275.90 L950.80,272.00 L955.70,274.80 L960.00,270.00 L967.50,280.00 L977.00,245.00 L993.00,261.25 L998.75,252.50 L1004.50,252.00 L1013.75,257.50 L1019.50,260.50 L1025.50,257.00 L1031.25,261.25 L1036.25,261.25 L1041.25,260.00 L1046.25,262.50 L1051.25,260.00 L1055.50,231.25 L1062.00,224.50 L1067.50,225.50 L1072.50,224.50 L1078.00,225.50 L1083.00,221.25 L1090.00,218.75 L1098.75,218.25 L1106.25,221.75 L1114.50,225.50 L1120.00,224.50 L1130.00,226.75 L1136.25,225.75 L1141.25,228.00 L1146.25,227.00 L1152.00,228.75 L1157.00,223.00 L1162.50,227.00 L1168.00,233.75 L1173.00,237.00 L1178.00,254.50 L1183.00,255.50 L1188.75,253.75 L1193.75,257.50 L1198.75,263.75 L1204.50,262.00 L1209.50,260.75 L1215.00,283.75 L1220.00,284.50 L1226.25,292.50 L1231.25,291.25 L1236.25,296.25 L1242.50,287.00 L1247.00,288.00 L1251.25,270.00 L1257.50,272.50 L1265.00,267.50 L1267.50,267.00 L1272.00,265.50 L1273.00,265.50 L1278.00,284.50 L1288.75,287.50 L1294.50,281.25 L1300.00,283.00 L1305.00,280.50 L1310.00,281.25 L1316.25,289.50 L1321.25,283.00 L1331.25,280.50 L1337.00,293.75 L1341.25,270.00 L1341.25,270.00 L1347.00,278.00 L1352.00,275.50 L1352.50,273.75 L1368.75,293.75 L1374.50,295.50 L1378.75,287.00 L1384.50,297.50 L1389.50,297.00 L1395.00,288.00 L1400.00,290.00 L1411.25,299.50 L1416.25,299.50 L1425.00,311.25 L1432.50,322.50 L1437.50,323.00 L1443.00,322.00 L1447.50,361.25 L1453.75,372.00 L1458.75,372.50 L1465.00,370.00 L1470.00,371.25 L1480.00,320.00 L1485.00,312.50 L1490.00,251.25 L1498.75,273.75 L1501.25,283.00 L1508.75,243.75 L1511.25,233.75 L1517.00,210.50 L1527.00,225.00 L1532.00,198.75 L1537.00,62.50 L1542.50,52.50 L1547.50,40.00 L1553.75,35.00 L1563.75,41.25 L1568.75,60.50 L1580.00,44.50 L1585.00,63.75 L1591.25,57.00 L1596.25,61.25 L1601.25,60.00 L1606.25,63.75" stroke="#e0168a" stroke-width="1.2" fill="none" stroke-linejoin="round"/>
<path d="M111.25,65.00 L115.00,63.00 L120.00,89.50 L126.25,82.00 L136.25,87.50 L142.50,103.75 L147.50,107.50 L157.00,186.25 L167.50,157.50 L172.50,138.75 L178.75,148.75 L183.75,140.00 L188.75,167.50 L193.75,123.75 L205.00,141.25 L216.25,121.25 L221.25,156.25 L226.25,122.50 L230.00,178.75 L242.50,190.00 L252.50,245.00 L258.00,234.25 L263.75,248.00 L273.75,246.25 L278.75,205.00 L290.00,166.25 L295.00,208.75 L300.00,218.00 L306.25,215.00 L311.25,203.75 L316.00,147.50 L321.25,178.75 L326.25,167.50 L331.25,172.50 L337.00,191.25 L343.75,175.00 L352.50,170.00 L357.50,187.50 L370.00,173.75 L375.00,175.00 L378.75,135.00 L385.00,127.50 L390.00,138.75 L395.00,126.25 L401.25,168.75 L406.40,142.00 L410.00,146.40 L414.80,180.00 L417.50,201.25 L426.70,123.30 L432.30,168.00 L438.00,165.30 L443.75,106.25 L448.75,118.75 L454.50,187.50 L460.00,176.25 L467.50,210.00 L475.00,210.00 L480.00,227.50 L485.00,196.25 L491.25,228.75 L496.25,217.50 L502.50,223.75 L510.00,235.00 L516.25,295.00 L527.50,227.50 L533.00,218.75 L538.75,265.50 L543.75,270.50 L558.75,255.00 L565.00,261.25 L570.00,307.00 L575.00,278.00 L580.50,294.50 L591.25,217.00 L595.00,217.50 L602.00,239.50 L607.00,198.75 L612.50,220.00 L618.00,258.75 L622.50,231.25 L627.50,230.00 L633.00,272.00 L643.50,284.30 L648.70,301.00 L652.60,255.00 L655.00,228.75 L655.00,229.00 L660.00,223.25 L660.00,223.60 L665.00,234.00 L669.60,251.60 L676.00,246.00 L681.00,275.60 L686.00,229.60 L686.25,230.00 L691.00,229.60 L692.50,230.00 L697.00,234.00 L697.50,235.00 L702.50,245.00 L707.50,240.00 L713.00,218.00 L722.50,288.00 L728.75,243.75 L734.50,242.00 L739.50,256.25 L745.00,252.50 L750.00,240.00 L755.00,278.00 L761.25,281.25 L765.00,278.00 L771.25,290.00 L777.50,279.50 L781.25,279.50 L787.50,287.50 L792.50,315.00 L797.50,304.50 L803.75,317.50 L807.50,317.00 L812.50,272.50 L823.75,388.75 L830.00,385.00 L833.75,408.75 L840.00,353.75 L845.00,367.50 L845.00,367.50 L850.00,337.50 L855.50,280.00 L861.25,294.50 L866.25,238.00 L871.25,267.50 L882.00,236.25 L887.50,241.25 L891.40,255.00 L892.50,261.00 L898.50,272.60 L903.00,302.30 L908.00,297.40 L912.80,310.00 L918.75,325.00 L924.50,315.00 L930.00,334.50 L936.00,310.00 L940.00,290.00 L944.70,284.00 L950.80,266.00 L955.70,287.50 L960.00,278.70 L961.25,277.50 L967.00,282.00 L972.00,256.25 L976.25,253.75 L993.00,288.75 L998.00,281.25 L1004.50,216.25 L1019.50,292.50 L1025.00,277.00 L1030.00,292.50 L1035.00,367.50 L1041.25,330.50 L1046.25,351.25 L1051.25,327.00 L1062.00,316.25 L1067.00,367.50 L1072.00,302.00 L1078.00,326.25 L1093.75,250.00 L1107.50,390.00 L1115.00,429.50 L1120.00,326.25 L1131.25,463.00 L1136.25,380.00 L1136.25,380.00 L1141.25,417.50 L1146.25,341.25 L1152.00,367.50 L1157.00,357.50 L1162.50,375.00 L1170.00,390.00 L1177.50,407.50 L1183.00,457.00 L1189.50,429.50 L1198.75,454.50 L1210.50,360.50 L1215.00,361.25 L1220.00,316.25 L1226.25,317.00 L1232.00,292.50 L1236.25,301.25 L1242.00,295.00 L1247.50,320.50 L1252.50,317.50 L1257.00,340.50 L1273.00,243.75 L1279.50,248.00 L1288.75,357.00 L1294.50,348.75 L1300.00,371.25 L1305.00,347.50 L1310.00,397.00 L1313.75,397.50 L1316.25,406.25 L1320.50,395.00 L1320.50,397.50 L1330.50,323.00 L1337.50,327.50 L1342.00,325.00 L1347.00,333.75 L1353.00,306.25 L1362.50,328.75 L1368.75,340.00 L1373.75,367.50 L1379.50,360.00 L1384.50,366.25 L1390.00,315.00 L1395.00,307.50 L1400.00,336.25 L1411.25,363.75 L1416.25,317.50 L1421.25,323.75 L1432.00,341.25 L1437.00,389.50 L1437.00,389.50 L1443.00,351.25 L1447.50,351.25 L1453.00,358.00 L1458.00,420.50 L1463.75,398.00 L1468.75,437.00 L1480.00,433.75 L1485.00,425.00 L1488.75,423.75 L1501.25,432.00 L1508.75,427.00 L1517.50,422.50 L1527.00,440.50 L1531.25,437.50 L1537.50,438.00 L1547.50,426.25 L1553.75,413.00 L1563.75,452.50 L1568.75,456.25 L1579.50,440.50 L1585.00,443.75 L1590.50,433.00 L1596.25,448.75 L1600.00,381.25 L1601.25,381.25 L1606.25,400.00" stroke="#22d46e" stroke-width="1.2" fill="none" stroke-linejoin="round"/>
<path d="M111.25,98.75 L115.00,93.00 L120.00,131.25 L126.25,127.50 L136.25,133.00 L141.25,151.25 L147.50,156.25 L157.00,221.25 L165.00,200.00 L172.50,192.50 L178.75,198.75 L183.75,195.00 L188.75,198.75 L193.75,185.00 L205.00,190.00 L210.00,172.50 L215.50,161.25 L221.25,188.75 L226.25,171.25 L231.25,226.25 L242.50,241.25 L252.50,272.50 L258.00,265.00 L265.00,279.50 L270.00,279.50 L283.75,242.50 L290.00,232.00 L300.00,251.25 L311.25,240.00 L316.25,210.00 L321.25,228.75 L327.00,81.25 L332.50,105.00 L337.00,138.00 L343.00,116.75 L348.00,138.00 L353.00,124.50 L358.00,145.50 L363.75,139.50 L368.75,123.00 L373.75,123.00 L380.00,98.75 L385.00,92.50 L390.00,107.50 L395.00,95.50 L401.25,127.00 L406.25,110.50 L411.25,117.00 L417.50,161.25 L421.25,127.50 L426.25,121.25 L432.50,173.75 L440.00,172.50 L442.80,149.20 L447.00,156.20 L453.75,206.25 L460.00,197.50 L468.75,225.00 L480.00,232.50 L485.00,211.25 L491.25,246.25 L496.25,237.50 L502.50,242.50 L510.00,243.75 L516.25,277.50 L517.50,272.50 L532.50,251.25 L537.50,278.75 L542.50,284.50 L548.75,281.25 L558.75,244.50 L565.00,249.50 L570.00,273.75 L575.00,258.00 L580.00,282.50 L587.50,252.50 L592.50,237.00 L596.25,237.50 L602.50,272.00 L607.50,256.25 L617.50,311.25 L623.75,286.25 L627.50,286.25 L632.50,311.25 L640.00,323.75 L648.75,335.00 L660.00,308.75 L670.00,337.50 L675.00,335.00 L681.25,346.25 L686.25,316.25 L693.75,316.25 L701.25,323.75 L706.25,320.50 L712.50,310.00 L722.50,325.00 L728.75,302.50 L733.75,301.25 L740.00,305.00 L750.00,297.50 L760.00,316.25 L766.25,306.25 L771.25,322.50 L777.50,314.50 L781.25,314.50 L792.50,333.75 L797.50,333.75 L807.50,339.50 L812.50,330.00 L823.75,383.75 L828.75,383.75 L833.75,400.00 L833.75,401.25 L840.00,382.50 L840.00,383.75 L845.00,386.25 L845.00,385.00 L850.00,379.50 L850.00,382.50 L850.00,382.50 L855.50,335.00 L860.50,340.00 L865.50,330.50 L870.50,334.50 L882.50,322.00 L886.25,322.50 L897.50,335.00 L903.75,346.25 L907.50,345.50 L913.75,355.00 L918.75,370.50 L924.50,363.00 L930.00,367.50 L940.00,341.25 L951.25,329.50 L955.50,345.00 L960.50,335.00 L967.00,346.25 L971.25,332.00 L977.00,331.25 L982.00,342.50 L993.75,348.00 L998.00,347.00 L1003.75,306.25 L1008.75,320.00 L1015.00,323.00 L1020.00,330.50 L1025.00,327.00 L1030.00,335.00 L1035.00,363.00 L1040.00,358.00 L1046.25,362.50 L1051.25,352.00 L1061.25,349.25 L1067.00,374.50 L1072.00,363.75 L1078.00,365.50 L1093.75,356.25 L1105.00,382.50 L1106.25,385.00 L1115.00,397.50 L1120.00,380.00 L1125.00,385.00 L1131.25,436.25 L1136.25,422.50 L1141.25,426.25 L1146.25,413.00 L1151.25,422.50 L1157.50,417.00 L1168.75,427.00 L1173.75,443.75 L1182.50,452.50 L1188.75,446.25 L1198.75,463.75 L1205.00,446.25 L1210.00,440.50 L1215.00,440.00 L1220.00,428.75 L1226.25,428.75 L1231.25,424.50 L1236.25,427.50 L1242.50,427.00 L1247.50,432.50 L1252.50,433.00 L1257.50,442.50 L1263.75,441.25 L1265.00,440.00 L1270.00,434.50 L1273.75,427.50 L1278.75,428.75 L1288.75,447.00 L1294.50,446.25 L1300.00,451.25 L1305.00,437.00 L1310.00,448.00 L1315.00,448.75 L1321.25,443.75 L1327.50,438.75 L1337.00,439.50 L1342.00,429.50 L1347.50,442.50 L1352.50,428.00 L1362.50,434.50 L1368.75,434.50 L1374.50,440.50 L1378.75,439.50 L1384.50,435.00 L1390.00,426.25 L1394.50,425.00 L1400.00,432.50 L1405.50,436.25 L1411.25,442.50 L1416.25,433.00 L1426.25,438.75 L1432.00,441.25 L1437.50,452.50 L1443.00,439.50 L1450.00,440.50 L1457.50,448.00 L1463.75,445.50 L1468.75,463.75 L1475.00,441.25 L1480.50,438.75 L1485.00,421.25 L1490.00,418.00 L1495.00,420.50 L1501.25,421.25 L1505.50,417.50 L1511.25,357.50 L1517.00,335.50 L1526.25,381.25 L1532.50,376.25 L1537.50,377.00 L1548.00,359.50 L1553.75,342.00 L1563.75,370.00 L1568.75,372.50 L1575.00,359.50 L1579.50,354.50 L1585.00,356.25 L1590.50,349.50 L1595.50,373.75 L1600.50,342.00 L1606.25,348.75" stroke="#1f7ad8" stroke-width="1.2" fill="none" stroke-linejoin="round"/>
<path d="M142.50,91.59 L144.50,92.48 L146.50,93.65 L148.50,94.85 L150.50,96.05 L152.50,97.26 L154.50,98.61 L156.50,100.30 L158.50,102.25 L160.50,104.25 L162.50,106.25 L164.50,108.25 L166.50,110.25 L168.50,112.25 L170.50,114.25 L172.50,116.26 L174.50,118.33 L176.50,120.60 L178.50,123.00 L180.50,125.43 L182.50,127.86 L184.50,130.29 L186.50,132.71 L188.50,135.14 L190.50,137.57 L192.50,140.00 L194.50,142.43 L196.50,144.86 L198.50,147.29 L200.50,149.71 L202.50,152.14 L204.50,154.57 L206.50,157.00 L208.50,159.33 L210.50,161.16 L212.50,162.29 L214.50,163.16 L216.50,164.01 L218.50,164.91 L220.50,166.07 L222.50,167.57 L224.50,169.21 L226.50,170.86 L228.50,172.51 L230.50,174.14 L232.50,175.75 L234.50,177.35 L236.50,178.95 L238.50,180.55 L240.50,182.16 L242.50,183.86 L244.50,185.76 L246.50,187.75 L248.50,189.75 L250.50,191.75 L252.50,193.75 L254.50,195.75 L256.50,197.75 L258.50,199.75 L260.50,201.75 L262.50,203.74 L264.50,205.65 L266.50,207.34 L268.50,208.87 L270.50,210.38 L272.50,211.87 L274.50,213.33 L276.50,214.67 L278.50,215.94 L280.50,217.19 L282.50,218.43 L284.50,219.59 L286.50,220.54 L288.50,221.34 L290.50,222.11 L292.50,222.88 L294.50,223.64 L296.50,224.41 L298.50,225.19 L300.50,226.03 L302.50,226.96 L304.50,227.93 L306.50,228.89 L308.50,229.86 L310.50,230.83 L312.50,231.78 L314.50,232.65 L316.50,233.26 L318.50,233.71 L320.50,234.20 L322.50,234.99 L324.50,235.90 L326.50,236.01 L328.50,234.69 L330.50,232.75 L332.50,230.75 L334.50,228.84 L336.50,227.48 L338.50,227.04 L340.50,226.95 L342.50,226.46 L344.50,225.05 L346.50,223.20 L348.50,221.30 L350.50,219.40 L352.50,217.47 L354.50,215.50 L356.50,213.50 L358.50,211.50 L360.50,209.50 L362.50,207.49 L364.50,205.40 L366.50,203.09 L368.50,200.62 L370.50,198.12 L372.50,195.62 L374.50,193.03 L376.50,190.22 L378.50,187.25 L380.50,184.25 L382.50,181.25 L384.50,178.20 L386.50,175.05 L388.50,171.81 L390.50,168.56 L392.50,165.33 L394.50,162.25 L396.50,159.59 L398.50,157.23 L400.50,154.93 L402.50,152.62 L404.50,150.32 L406.50,148.03 L408.50,145.72 L410.50,143.43 L412.50,141.12 L414.50,138.82 L416.50,136.53 L418.50,134.27 L420.50,132.26 L422.50,130.59 L424.50,129.05 L426.50,127.51 L428.50,125.98 L430.50,124.54 L432.50,123.50 L434.50,122.89 L436.50,122.51 L438.50,122.80 L440.50,123.95 L442.50,125.19 L444.50,126.24 L446.50,127.16 L448.50,127.88 L450.50,128.45 L452.50,129.02 L454.50,129.75 L456.50,130.86 L458.50,132.18 L460.50,133.54 L462.50,134.90 L464.50,136.26 L466.50,137.62 L468.50,139.01 L470.50,140.51 L472.50,142.19 L474.50,143.94 L476.50,145.69 L478.50,147.44 L480.50,149.19 L482.50,150.94 L484.50,152.69 L486.50,154.44 L488.50,156.22 L490.50,158.16 L492.50,160.32 L494.50,162.56 L496.50,164.81 L498.50,167.08 L500.50,169.42 L502.50,171.88 L504.50,174.37 L506.50,176.87 L508.50,179.38 L510.50,181.87 L512.50,184.38 L514.50,186.97 L516.50,189.78 L518.50,192.78 L520.50,195.97 L522.50,199.35 L524.50,202.39 L526.50,204.44 L528.50,206.10 L530.50,208.02 L532.50,210.21 L534.50,212.77 L536.50,215.50 L538.50,218.25 L540.50,220.97 L542.50,223.46 L544.50,225.47 L546.50,227.25 L548.50,229.00 L550.50,230.76 L552.50,232.57 L554.50,234.51 L556.50,236.50 L558.50,238.50 L560.50,240.48 L562.50,242.27 L564.50,243.68 L566.50,244.90 L568.50,246.10 L570.50,247.30 L572.50,248.50 L574.50,249.66 L576.50,250.74 L578.50,251.75 L580.50,252.75 L582.50,253.74 L584.50,254.63 L586.50,255.26 L588.50,255.70 L590.50,256.10 L592.50,256.50 L594.50,256.90 L596.50,257.30 L598.50,257.67 L600.50,258.02 L602.50,258.36 L604.50,258.70 L606.50,259.04 L608.50,259.38 L610.50,259.72 L612.50,260.05 L614.50,260.40 L616.50,260.83 L618.50,261.65 L620.50,262.86 L622.50,264.05 L624.50,264.85 L626.50,265.29 L628.50,265.65 L630.50,266.07 L632.50,266.60 L634.50,267.19 L636.50,267.78 L638.50,268.43 L640.50,269.32 L642.50,270.46 L644.50,271.67 L646.50,272.88 L648.50,274.07 L650.50,275.13 L652.50,276.04 L654.50,276.88 L656.50,277.71 L658.50,278.54 L660.50,279.38 L662.50,280.21 L664.50,281.06 L666.50,282.12 L668.50,283.45 L670.50,284.85 L672.50,286.25 L674.50,287.65 L676.50,289.05 L678.50,290.45 L680.50,291.85 L682.50,293.24 L684.50,294.57 L686.50,295.72 L688.50,296.75 L690.50,297.75 L692.50,298.75 L694.50,299.75 L696.50,300.75 L698.50,301.76 L700.50,302.82 L702.50,303.96 L704.50,305.13 L706.50,306.29 L708.50,307.46 L710.50,308.62 L712.50,309.79 L714.50,310.94 L716.50,312.06 L718.50,313.16 L720.50,314.25 L722.50,315.34 L724.50,316.43 L726.50,317.49 L728.50,318.26 L730.50,318.33 L732.50,318.01 L734.50,317.79 L736.50,317.99 L738.50,318.50 L740.50,319.07 L742.50,319.55 L744.50,319.63 L746.50,319.23 L748.50,318.68 L750.50,318.13 L752.50,317.58 L754.50,317.02 L756.50,316.47 L758.50,315.95 L760.50,315.58 L762.50,315.42 L764.50,315.35 L766.50,315.28 L768.50,315.22 L770.50,315.15 L772.50,315.08 L774.50,315.01 L776.50,314.90 L778.50,314.78 L780.50,314.66 L782.50,314.53 L784.50,314.41 L786.50,314.28 L788.50,314.16 L790.50,314.03 L792.50,313.91 L794.50,313.88 L796.50,314.08 L798.50,314.45 L800.50,314.85 L802.50,315.25 L804.50,315.62 L806.50,315.91 L808.50,316.16 L810.50,316.39 L812.50,316.62 L814.50,316.86 L816.50,317.09 L818.50,317.40 L820.50,318.05 L822.50,319.18 L824.50,320.50 L826.50,321.83 L828.50,323.17 L830.50,324.50 L832.50,325.83 L834.50,327.08 L836.50,328.15 L838.50,329.07 L840.50,329.98 L842.50,330.88 L844.50,331.83 L846.50,332.92 L848.50,334.14 L850.50,335.57 L852.50,337.24 L854.50,338.80 L856.50,339.79 L858.50,340.37 L860.50,340.88 L862.50,341.37 L864.50,341.83 L866.50,342.20 L868.50,342.49 L870.50,342.77 L872.50,343.05 L874.50,343.33 L876.50,343.58 L878.50,343.74 L880.50,343.80 L882.50,343.83 L884.50,343.87 L886.50,343.90 L888.50,343.93 L890.50,343.98 L892.50,344.09 L894.50,344.37 L896.50,344.72 L898.50,345.08 L900.50,345.44 L902.50,345.80 L904.50,346.15 L906.50,346.50 L908.50,346.83 L910.50,347.17 L912.50,347.50 L914.50,347.83 L916.50,348.17 L918.50,348.50 L920.50,348.86 L922.50,349.25 L924.50,349.65 L926.50,350.05 L928.50,350.45 L930.50,350.85 L932.50,351.23 L934.50,351.43 L936.50,351.13 L938.50,350.46 L940.50,349.73 L942.50,349.00 L944.50,348.27 L946.50,347.53 L948.50,346.81 L950.50,346.11 L952.50,345.47 L954.50,344.84 L956.50,344.21 L958.50,343.58 L960.50,342.95 L962.50,342.32 L964.50,341.70 L966.50,341.13 L968.50,340.84 L970.50,340.83 L972.50,340.88 L974.50,340.92 L976.50,340.98 L978.50,341.03 L980.50,341.08 L982.50,341.12 L984.50,341.18 L986.50,341.27 L988.50,341.52 L990.50,341.94 L992.50,342.40 L994.50,342.87 L996.50,343.33 L998.50,343.79 L1000.50,344.25 L1002.50,344.64 L1004.50,344.74 L1006.50,344.48 L1008.50,344.12 L1010.50,343.75 L1012.50,343.38 L1014.50,343.02 L1016.50,342.65 L1018.50,342.27 L1020.50,341.83 L1022.50,341.33 L1024.50,340.80 L1026.50,340.27 L1028.50,339.73 L1030.50,339.20 L1032.50,338.67 L1034.50,338.24 L1036.50,338.03 L1038.50,338.00 L1040.50,338.00 L1042.50,338.00 L1044.50,338.00 L1046.50,338.00 L1048.50,338.00 L1050.50,338.00 L1052.50,338.00 L1054.50,338.06 L1056.50,338.27 L1058.50,338.58 L1060.50,338.92 L1062.50,339.25 L1064.50,339.58 L1066.50,339.92 L1068.50,340.26 L1070.50,340.67 L1072.50,341.17 L1074.50,341.70 L1076.50,342.23 L1078.50,342.77 L1080.50,343.30 L1082.50,343.83 L1084.50,344.34 L1086.50,344.79 L1088.50,345.20 L1090.50,345.60 L1092.50,346.00 L1094.50,346.40 L1096.50,346.80 L1098.50,347.22 L1100.50,347.72 L1102.50,348.34 L1104.50,349.00 L1106.50,349.67 L1108.50,350.33 L1110.50,351.00 L1112.50,351.67 L1114.50,352.43 L1116.50,353.41 L1118.50,354.54 L1120.50,355.71 L1122.50,356.88 L1124.50,358.04 L1126.50,359.21 L1128.50,360.42 L1130.50,361.84 L1132.50,363.55 L1134.50,365.38 L1136.50,367.21 L1138.50,369.04 L1140.50,370.88 L1142.50,372.69 L1144.50,374.33 L1146.50,375.49 L1148.50,376.31 L1150.50,377.06 L1152.50,377.82 L1154.50,378.65 L1156.50,379.68 L1158.50,380.85 L1160.50,382.05 L1162.50,383.25 L1164.50,384.45 L1166.50,385.67 L1168.50,386.98 L1170.50,388.37 L1172.50,389.78 L1174.50,391.20 L1176.50,392.61 L1178.50,394.02 L1180.50,395.44 L1182.50,396.85 L1184.50,398.27 L1186.50,399.74 L1188.50,401.30 L1190.50,402.90 L1192.50,404.50 L1194.50,406.10 L1196.50,407.70 L1198.50,409.30 L1200.50,410.90 L1202.50,412.50 L1204.50,414.10 L1206.50,415.70 L1208.50,417.30 L1210.50,418.89 L1212.50,420.39 L1214.50,421.69 L1216.50,422.90 L1218.50,424.05 L1220.50,424.96 L1222.50,425.54 L1224.50,426.00 L1226.50,426.44 L1228.50,426.89 L1230.50,427.35 L1232.50,427.84 L1234.50,428.37 L1236.50,428.90 L1238.50,429.43 L1240.50,429.96 L1242.50,430.38 L1244.50,430.61 L1246.50,430.74 L1248.50,430.86 L1250.50,430.98 L1252.50,431.10 L1254.50,431.26 L1256.50,431.53 L1258.50,431.86 L1260.50,432.21 L1262.50,432.57 L1264.50,432.96 L1266.50,433.47 L1268.50,434.03 L1270.50,434.49 L1272.50,434.79 L1274.50,435.02 L1276.50,435.26 L1278.50,435.49 L1280.50,435.73 L1282.50,435.95 L1284.50,436.12 L1286.50,436.11 L1288.50,435.99 L1290.50,435.84 L1292.50,435.69 L1294.50,435.55 L1296.50,435.46 L1298.50,435.38 L1300.50,435.32 L1302.50,435.25 L1304.50,435.18 L1306.50,435.12 L1308.50,435.07 L1310.50,435.13 L1312.50,435.34 L1314.50,435.60 L1316.50,435.87 L1318.50,436.13 L1320.50,436.40 L1322.50,436.66 L1324.50,436.88 L1326.50,436.98 L1328.50,437.00 L1330.50,437.00 L1332.50,437.00 L1334.50,437.00 L1336.50,437.00 L1338.50,437.00 L1340.50,437.03 L1342.50,437.08 L1344.50,437.15 L1346.50,437.22 L1348.50,437.28 L1350.50,437.35 L1352.50,437.42 L1354.50,437.48 L1356.50,437.55 L1358.50,437.62 L1360.50,437.68 L1362.50,437.75 L1364.50,437.82 L1366.50,437.88 L1368.50,437.95 L1370.50,438.02 L1372.50,438.09 L1374.50,438.17 L1376.50,438.24 L1378.50,438.32 L1380.50,438.39 L1382.50,438.47 L1384.50,438.54 L1386.50,438.62 L1388.50,438.67 L1390.50,438.62 L1392.50,438.43 L1394.50,438.19 L1396.50,437.94 L1398.50,437.69 L1400.50,437.44 L1402.50,437.19 L1404.50,436.94 L1406.50,436.69 L1408.50,436.44 L1410.50,436.24 L1412.50,436.08 L1414.50,435.94 L1416.50,435.80 L1418.50,435.66 L1420.50,435.51 L1422.50,435.38 L1424.50,435.23 L1426.50,435.10 L1428.50,434.95 L1430.50,434.82 L1432.50,434.68 L1434.50,434.58 L1436.50,434.59 L1438.50,434.68 L1440.50,434.77 L1442.50,434.88 L1444.50,434.98 L1446.50,435.07 L1448.50,435.18 L1450.50,435.27 L1452.50,435.38 L1454.50,435.52 L1456.50,435.76 L1458.50,436.08 L1460.50,436.42 L1462.50,436.75 L1464.50,437.08 L1466.50,437.42 L1468.50,437.74 L1470.50,437.99 L1472.50,438.15 L1474.50,438.27 L1476.50,438.39 L1478.50,438.51 L1480.50,438.61 L1482.50,438.53 L1484.50,438.08 L1486.50,437.45 L1488.50,436.80 L1490.50,436.16 L1492.50,435.59 L1494.50,435.16 L1496.50,434.80 L1498.50,434.45 L1500.50,434.11 L1502.50,433.85 L1504.50,433.76 L1506.50,433.75 L1508.50,433.73 L1510.50,433.45 L1512.50,432.33 L1514.50,430.50 L1516.50,428.54 L1518.50,426.74 L1520.50,425.10 L1522.50,423.50 L1524.50,421.90 L1526.50,420.38 L1528.50,419.18 L1530.50,418.31 L1532.50,417.51 L1534.50,416.71 L1536.50,415.91 L1538.50,414.99 L1540.50,413.81 L1542.50,412.47 L1544.50,411.10 L1546.50,409.73 L1548.50,408.36 L1550.50,406.99 L1552.50,405.60 L1554.50,404.10 L1556.50,402.45 L1558.50,400.74 L1560.50,399.03 L1562.50,397.32 L1564.50,395.66 L1566.50,394.16 L1568.50,392.80 L1570.50,391.47 L1572.50,390.13 L1574.50,388.75 L1576.50,387.25 L1578.50,385.69 L1580.50,384.12 L1582.50,382.55 L1584.50,380.99 L1586.50,379.51 L1588.50,378.14 L1590.50,376.80 L1592.50,375.47 L1594.50,374.13 L1596.50,372.80 L1598.50,371.47 L1600.50,370.13 L1602.50,368.80 L1604.50,367.51 L1606.50,366.56 L1606.50,366.56" stroke="#dc680c" stroke-width="2.2" fill="none" stroke-linejoin="round"/>
<path d="M1612,35 L1607,35 L1607,464.5 L1612,464.5" stroke="#b4bfc7" stroke-width="2" fill="none"/>
<line x1="1607" y1="35.00" x2="1612" y2="35.00" stroke="#b4bfc7" stroke-width="2"/>
<text x="1617.3" y="40.10" font-size="14.4" letter-spacing="0.15" fill="#333" stroke="#333" stroke-width="0.2">1000.00</text>
<line x1="1607" y1="74.05" x2="1612" y2="74.05" stroke="#b4bfc7" stroke-width="2"/>
<text x="1617.3" y="79.15" font-size="14.4" letter-spacing="0.15" fill="#333" stroke="#333" stroke-width="0.2">910.00</text>
<line x1="1607" y1="113.09" x2="1612" y2="113.09" stroke="#b4bfc7" stroke-width="2"/>
<text x="1617.3" y="118.19" font-size="14.4" letter-spacing="0.15" fill="#333" stroke="#333" stroke-width="0.2">819.00</text>
<line x1="1607" y1="152.14" x2="1612" y2="152.14" stroke="#b4bfc7" stroke-width="2"/>
<text x="1617.3" y="157.24" font-size="14.4" letter-spacing="0.15" fill="#333" stroke="#333" stroke-width="0.2">728.00</text>
<line x1="1607" y1="191.18" x2="1612" y2="191.18" stroke="#b4bfc7" stroke-width="2"/>
<text x="1617.3" y="196.28" font-size="14.4" letter-spacing="0.15" fill="#333" stroke="#333" stroke-width="0.2">637.00</text>
<line x1="1607" y1="230.23" x2="1612" y2="230.23" stroke="#b4bfc7" stroke-width="2"/>
<text x="1617.3" y="235.33" font-size="14.4" letter-spacing="0.15" fill="#333" stroke="#333" stroke-width="0.2">546.00</text>
<line x1="1607" y1="269.27" x2="1612" y2="269.27" stroke="#b4bfc7" stroke-width="2"/>
<text x="1617.3" y="274.37" font-size="14.4" letter-spacing="0.15" fill="#333" stroke="#333" stroke-width="0.2">455.00</text>
<line x1="1607" y1="308.32" x2="1612" y2="308.32" stroke="#b4bfc7" stroke-width="2"/>
<text x="1617.3" y="313.42" font-size="14.4" letter-spacing="0.15" fill="#333" stroke="#333" stroke-width="0.2">364.00</text>
<line x1="1607" y1="347.36" x2="1612" y2="347.36" stroke="#b4bfc7" stroke-width="2"/>
<text x="1617.3" y="352.46" font-size="14.4" letter-spacing="0.15" fill="#333" stroke="#333" stroke-width="0.2">273.00</text>
<line x1="1607" y1="386.41" x2="1612" y2="386.41" stroke="#b4bfc7" stroke-width="2"/>
<text x="1617.3" y="391.51" font-size="14.4" letter-spacing="0.15" fill="#333" stroke="#333" stroke-width="0.2">182.00</text>
<line x1="1607" y1="425.45" x2="1612" y2="425.45" stroke="#b4bfc7" stroke-width="2"/>
<text x="1617.3" y="430.55" font-size="14.4" letter-spacing="0.15" fill="#333" stroke="#333" stroke-width="0.2">91.00</text>
<line x1="1607" y1="464.50" x2="1612" y2="464.50" stroke="#b4bfc7" stroke-width="2"/>
<text x="1617.3" y="469.60" font-size="14.4" letter-spacing="0.15" fill="#333" stroke="#333" stroke-width="0.2">0.00</text>
<rect x="30.1" y="34.9" width="80.9" height="224.7" rx="0.6" fill="#fff" stroke="#858585" stroke-width="2"/>
<text x="35.5" y="49.10" font-size="11.6" fill="#333" stroke="#333" stroke-width="0.25">obv</text>
<line x1="60" y1="45.00" x2="101" y2="45.00" stroke="#8a8a8a" stroke-width="2.2"/>
<text x="35.5" y="79.10" font-size="11.6" fill="#333" stroke="#333" stroke-width="0.25">hope</text>
<line x1="66" y1="75.00" x2="101" y2="75.00" stroke="#6ee6a0" stroke-width="2.2"/>
<text x="35.5" y="108.10" font-size="11.6" fill="#333" stroke="#333" stroke-width="0.25">cost</text>
<line x1="63" y1="104.00" x2="101" y2="104.00" stroke="#ea6db5" stroke-width="2.2"/>
<text x="35.5" y="137.80" font-size="11.6" fill="#333" stroke="#333" stroke-width="0.25">price</text>
<line x1="66" y1="133.70" x2="101" y2="133.70" stroke="#6fa8e8" stroke-width="2.2"/>
<text x="35.5" y="167.80" font-size="11.6" fill="#333" stroke="#333" stroke-width="0.25">500</text>
<line x1="60" y1="163.70" x2="101" y2="163.70" stroke="#c8c8c8" stroke-width="2.2"/>
<text x="35.5" y="197.10" font-size="11.6" fill="#333" stroke="#333" stroke-width="0.25">reg</text>
<line x1="57" y1="193.00" x2="101" y2="193.00" stroke="#d2691e" stroke-width="2.2"/>
<text x="35.5" y="225.90" font-size="11.6" fill="#333" stroke="#333" stroke-width="0.25">dev+std</text>
<line x1="81" y1="221.80" x2="101" y2="221.80" stroke="#cfd5d9" stroke-width="2.2"/>
<text x="35.5" y="254.70" font-size="11.6" fill="#333" stroke="#333" stroke-width="0.25">dev-std</text>
<line x1="79" y1="250.60" x2="101" y2="250.60" stroke="#a6b0b7" stroke-width="2.2"/>
</svg>
</body></html>
